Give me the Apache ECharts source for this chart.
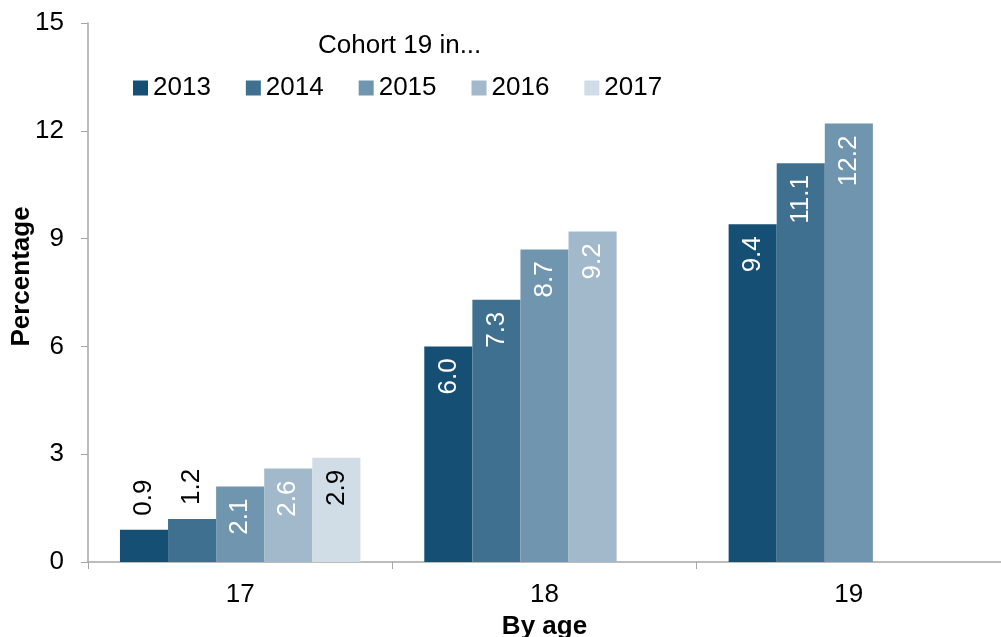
<!DOCTYPE html>
<html>
<head>
<meta charset="utf-8">
<title>Cohort 19</title>
<script src="https://cdn.jsdelivr.net/npm/echarts@6/dist/echarts.min.js"></script>
<style>
  html, body { margin: 0; padding: 0; background: #fff; }
  #chart { width: 1001px; height: 637px; }
</style>
</head>
<body>
<div id="chart"></div>
<script>
// categories (age) and one series per year
var ages = ['17', '18', '19'];
var years = ['2013', '2014', '2015', '2016', '2017'];
var v2013 = [0.9, 6.0, 9.4];
var v2014 = [1.2, 7.3, 11.1];
var v2015 = [2.1, 8.7, 12.2];
var v2016 = [2.6, 9.2, null];
var v2017 = [2.9, null, null];
var yTicks = [0, 3, 6, 9, 12, 15];

var colors = ['#154f74', '#3f7090', '#6f95af', '#a1b9ca', '#d1dde6'];
var font = 'Liberation Sans, Arial, sans-serif';

// labels inside the bar, rotated
function insideLabel(color) {
  return {
    show: true,
    position: 'insideTop',
    rotate: 90,
    align: 'right',
    verticalAlign: 'middle',
    distance: 12,
    color: color,
    fontFamily: font,
    fontSize: 26,
    formatter: function (p) { return p.value.toFixed(1); }
  };
}

// short bars get the label above the bar in black
function outsideFirst(values) {
  return values.map(function (v, i) {
    if (i === 0) {
      return {
        value: v,
        label: {
          position: 'top',
          rotate: 90,
          align: 'left',
          verticalAlign: 'middle',
          distance: 14,
          color: '#000'
        }
      };
    }
    return v;
  });
}

var seriesData = [outsideFirst(v2013), outsideFirst(v2014), v2015, v2016, v2017];
var labelColors = ['#fff', '#fff', '#fff', '#fff', '#000'];

var chart = echarts.init(document.getElementById('chart'));
chart.setOption({
  animation: false,
  color: colors,
  textStyle: { fontFamily: font },
  title: {
    text: 'Cohort 19 in...',
    left: 318,
    top: 33,
    padding: 0,
    textStyle: { fontFamily: font, fontSize: 26, fontWeight: 'normal', color: '#000' }
  },
  legend: {
    data: years,
    left: 133,
    top: 75,
    padding: 0,
    icon: 'rect',
    itemWidth: 15,
    itemHeight: 15,
    itemGap: 35,
    textStyle: { fontFamily: font, fontSize: 26, color: '#000' }
  },
  grid: {
    left: 88,
    right: 0,
    top: 23,
    bottom: 75,
    containLabel: false,
    outerBoundsMode: 'none'
  },
  xAxis: {
    type: 'category',
    data: ages,
    name: 'By age',
    nameLocation: 'middle',
    nameGap: 52,
    nameTextStyle: { fontFamily: font, fontSize: 26, fontWeight: 'bold', color: '#000' },
    axisLine: { lineStyle: { color: '#a6a6a6', width: 1.5 } },
    axisTick: { show: true, length: 7, lineStyle: { color: '#a6a6a6' } },
    axisLabel: { fontFamily: font, fontSize: 26, color: '#000', margin: 20 }
  },
  yAxis: {
    type: 'value',
    min: yTicks[0],
    max: yTicks[yTicks.length - 1],
    interval: 3,
    name: 'Percentage',
    nameLocation: 'middle',
    nameGap: 53,
    nameMoveOverlap: false,
    nameTextStyle: {
      fontFamily: font, fontSize: 26, fontWeight: 'bold', color: '#000',
      padding: [0, 0, 0, 32]
    },
    splitLine: { show: false },
    axisLine: { show: true, lineStyle: { color: '#a6a6a6', width: 1.5 } },
    axisTick: { show: true, length: 7, lineStyle: { color: '#a6a6a6' } },
    axisLabel: { fontFamily: font, fontSize: 26, color: '#000', margin: 24 }
  },
  series: years.map(function (y, i) {
    return {
      name: y,
      type: 'bar',
      data: seriesData[i],
      barGap: '0%',
      barCategoryGap: '21%',
      label: insideLabel(labelColors[i])
    };
  })
});
</script>
</body>
</html>
